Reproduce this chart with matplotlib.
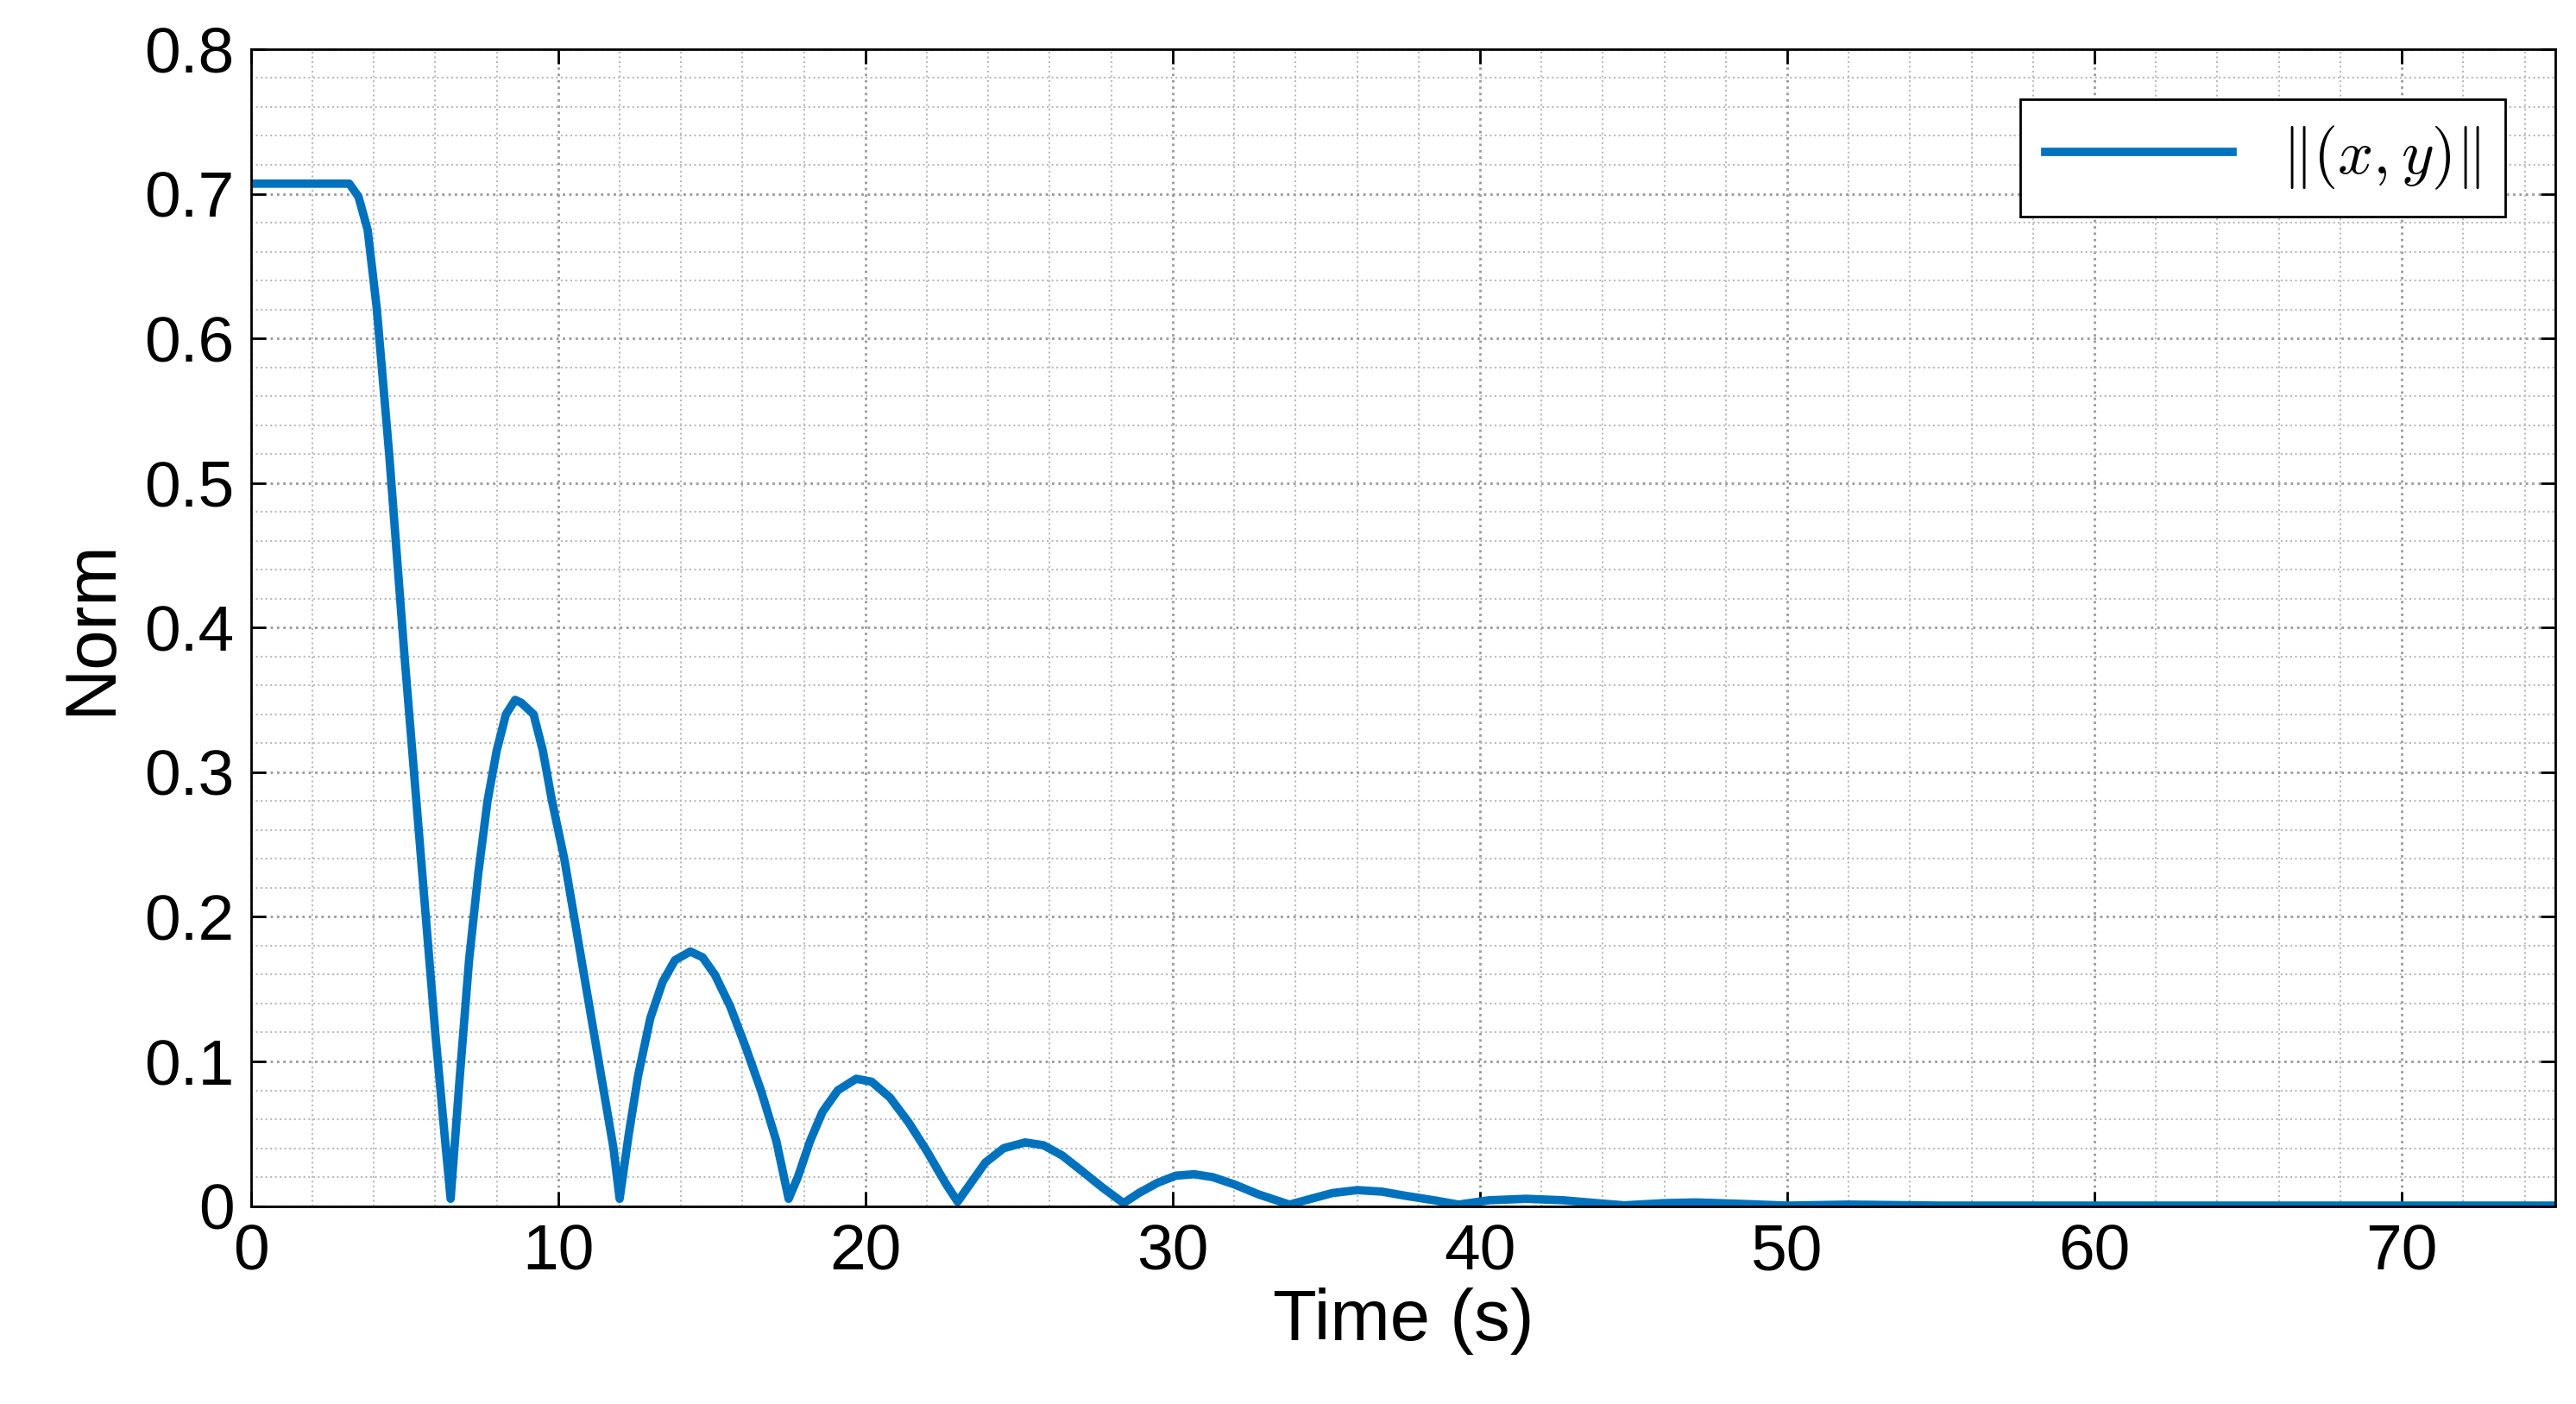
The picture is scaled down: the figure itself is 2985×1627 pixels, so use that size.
import matplotlib
matplotlib.use("Agg")
import matplotlib.pyplot as plt
from matplotlib.ticker import MultipleLocator

plt.rcParams['font.family'] = ['Liberation Sans', 'DejaVu Sans']
plt.rcParams['mathtext.fontset'] = 'cm'

time = [0, 3.2, 3.5, 3.8, 4.1, 4.5, 5.0, 5.5, 6.0, 6.3, 6.5,
        6.8, 7.1, 7.4, 7.7, 8.0, 8.3, 8.6, 8.8, 9.2, 9.5, 9.8, 10.2, 10.6, 11.0, 11.4, 11.8, 12.0,
        12.3, 12.6, 13.0, 13.4, 13.8, 14.3, 14.7, 15.1, 15.6, 16.1, 16.6, 17.1, 17.5,
        17.8, 18.2, 18.6, 19.1, 19.7, 20.2, 20.8, 21.4, 22.0, 22.6, 23.0,
        23.4, 23.9, 24.5, 25.2, 25.8, 26.4, 27.0, 27.7, 28.4,
        28.9, 29.5, 30.1, 30.7, 31.3, 32.0, 32.8, 33.8,
        34.5, 35.2, 36.0, 36.8, 37.6, 38.5, 39.3,
        40.3, 41.5, 42.7, 43.8, 44.7, 46.0, 47.0, 48.5, 50.0, 52.0, 55.0, 75.0]
norm = [0.707, 0.707, 0.698, 0.675, 0.62, 0.52, 0.38, 0.25, 0.12, 0.05, 0.005,
        0.09, 0.17, 0.23, 0.28, 0.315, 0.34, 0.35, 0.348, 0.34, 0.315, 0.28, 0.24, 0.19, 0.14, 0.09, 0.04, 0.005,
        0.05, 0.09, 0.13, 0.155, 0.17, 0.176, 0.172, 0.16, 0.138, 0.11, 0.08, 0.045, 0.005,
        0.02, 0.045, 0.065, 0.08, 0.088, 0.086, 0.075, 0.058, 0.038, 0.016, 0.003,
        0.015, 0.03, 0.04, 0.044, 0.042, 0.035, 0.025, 0.013, 0.002,
        0.009, 0.016, 0.021, 0.022, 0.02, 0.015, 0.008, 0.001,
        0.005, 0.009, 0.011, 0.01, 0.007, 0.004, 0.001,
        0.004, 0.005, 0.004, 0.002, 0.0005, 0.002, 0.0025, 0.0015, 0.0003, 0.001, 0.0003, 0.0003]

fig = plt.figure(figsize=(29.85, 16.27), dpi=100)
ax = fig.add_axes([0.0974, 0.141, 0.8946, 0.824])
ax.plot(time, norm, color='#0072BD', lw=7, label=r'$\|(x,y)\|$')
ax.set_xlim(0, 75)
ax.set_ylim(0, 0.8)
ax.xaxis.set_major_locator(MultipleLocator(10))
ax.xaxis.set_minor_locator(MultipleLocator(2))
ax.yaxis.set_major_locator(MultipleLocator(0.1))
ax.yaxis.set_minor_locator(MultipleLocator(0.02))
ax.set_yticklabels([f"{v:g}" for v in ax.get_yticks()])
ax.grid(which='major', color='#999999', ls=':', lw=2)
ax.grid(which='minor', color='#bbbbbb', ls=':', lw=1.5)
ax.tick_params(labelsize=54, direction='in', length=12, width=2, top=True, right=True, pad=14)
ax.tick_params(which='minor', length=0)
for s in ax.spines.values():
    s.set_linewidth(2)
ax.set_xlabel('Time (s)', fontsize=60, labelpad=4)
ax.set_ylabel('Norm', fontsize=60, labelpad=16)
leg = ax.legend(loc='upper right', fontsize=52, fancybox=False, edgecolor='black',
                framealpha=1, handlelength=3.0, borderaxespad=0.8)
leg.get_frame().set_linewidth(2)
fig.savefig('out.png', dpi=100)
